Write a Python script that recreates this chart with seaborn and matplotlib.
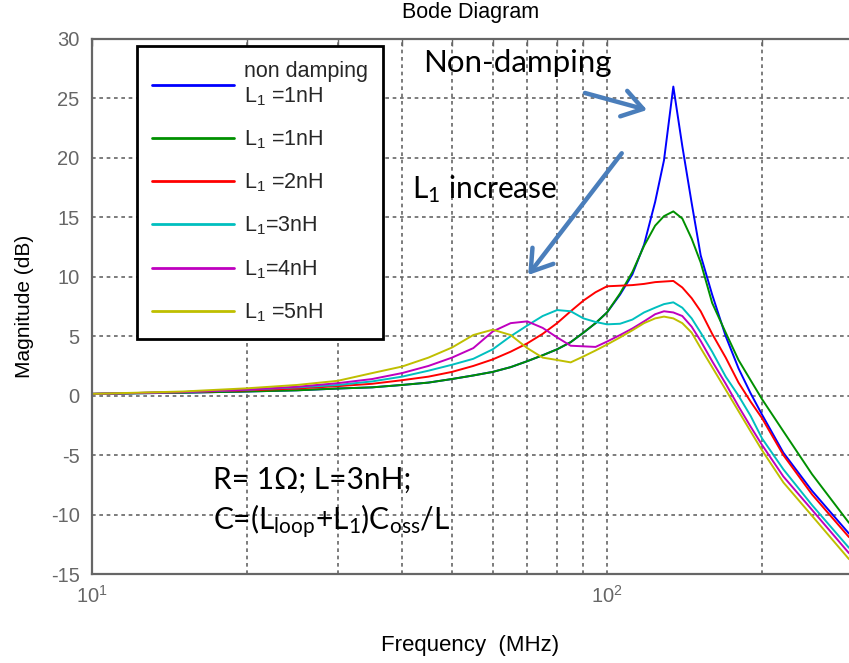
import numpy as np
import pandas as pd
import matplotlib
matplotlib.use("Agg")
import matplotlib.pyplot as plt
from matplotlib.ticker import FixedLocator, FuncFormatter, NullFormatter
from matplotlib.patches import FancyArrowPatch
import seaborn as sns

# ---------------- data ----------------
freq_mhz = [10, 15, 20, 25, 30, 35, 40, 45, 50, 55, 60, 65, 70, 75, 80, 85, 90, 95,
            100, 106, 112, 118, 124, 129, 134.5, 140, 146, 152, 160, 170, 180, 190,
            200, 220, 250, 295]

non_damping = [0.15, 0.25, 0.35, 0.45, 0.6, 0.7, 0.9, 1.1, 1.4, 1.7, 2.0, 2.4, 2.9, 3.4,
               3.9, 4.5, 5.3, 6.1, 7.0, 8.5, 10.2, 12.7, 16.3, 19.8, 26.0, 21.0, 16.2,
               11.8, 8.5, 5.0, 2.3, 0.2, -1.6, -4.8, -8.0, -11.6]
l1_1nh = [0.15, 0.25, 0.35, 0.45, 0.6, 0.7, 0.9, 1.1, 1.4, 1.7, 2.0, 2.4, 2.9, 3.4,
          3.9, 4.5, 5.3, 6.1, 7.0, 8.6, 10.4, 12.6, 14.3, 15.1, 15.5, 14.9, 13.2,
          11.2, 7.8, 5.3, 3.0, 1.3, -0.3, -3.0, -6.6, -10.7]
l1_2nh = [0.15, 0.3, 0.45, 0.6, 0.8, 1.0, 1.3, 1.6, 2.0, 2.5, 3.05, 3.7, 4.4, 5.2,
          6.1, 7.1, 8.0, 8.7, 9.2, 9.25, 9.3, 9.4, 9.55, 9.6, 9.65, 9.1, 8.2,
          7.1, 5.2, 3.2, 1.1, -0.5, -1.9, -5.0, -8.3, -11.9]
l1_3nh = [0.15, 0.3, 0.5, 0.7, 0.9, 1.2, 1.6, 2.1, 2.6, 3.1, 3.9, 5.0, 5.9, 6.7,
          7.2, 7.1, 6.5, 6.2, 6.0, 6.05, 6.4, 7.0, 7.4, 7.7, 7.85, 7.4, 6.5,
          5.3, 3.7, 1.6, 0.0, -1.7, -3.6, -6.2, -9.2, -12.8]
l1_4nh = [0.15, 0.3, 0.5, 0.75, 1.05, 1.4, 1.9, 2.5, 3.2, 4.0, 5.4, 6.1, 6.25, 5.7,
          4.9, 4.2, 4.15, 4.1, 4.55, 5.1, 5.65, 6.25, 6.85, 7.1, 7.0, 6.7, 5.8,
          4.6, 2.9, 1.0, -0.9, -2.6, -4.15, -6.8, -9.6, -13.25]
l1_5nh = [0.15, 0.35, 0.62, 0.9, 1.25, 1.9, 2.45, 3.2, 4.05, 5.1, 5.55, 5.1, 4.0, 3.2,
          3.0, 2.8, 3.3, 3.8, 4.3, 4.9, 5.5, 6.1, 6.5, 6.65, 6.5, 6.1, 5.3,
          4.0, 2.4, 0.5, -1.3, -3.0, -4.6, -7.3, -10.1, -13.75]

series_labels = ["non damping\n$\\mathregular{L_1}$ =1nH",
                 "$\\mathregular{L_1}$ =1nH",
                 "$\\mathregular{L_1}$ =2nH",
                 "$\\mathregular{L_1}$=3nH",
                 "$\\mathregular{L_1}$=4nH",
                 "$\\mathregular{L_1}$ =5nH"]
series_values = [non_damping, l1_1nh, l1_2nh, l1_3nh, l1_4nh, l1_5nh]
series_colors = ["#0000ff", "#009000", "#ff0000", "#00bfbf", "#bf00bf", "#bfbf00"]

y_ticks = [-15, -10, -5, 0, 5, 10, 15, 20, 25, 30]

# ---------------- style ----------------
sns.set_style("white")
plt.rcParams["font.family"] = ["Liberation Sans", "DejaVu Sans"]
plt.rcParams["mathtext.fontset"] = "custom"
plt.rcParams["mathtext.rm"] = "Liberation Sans"
plt.rcParams["mathtext.it"] = "Liberation Sans:italic"
plt.rcParams["axes.unicode_minus"] = False

fig = plt.figure(figsize=(8.49, 6.63), dpi=100)
ax = fig.add_axes([92 / 849, (663 - 574) / 663, 1 - 92 / 849, (574 - 39) / 663])

for vals, lab, col in zip(series_values, series_labels, series_colors):
    sns.lineplot(x=freq_mhz, y=vals, color=col, label=lab, ax=ax, lw=1.4, sort=False)

ax.set_xscale("log")
ax.set_xlim(10, 295)
ax.set_ylim(-15, 30)
ax.set_yticks(y_ticks)

grid_col = "#666666"
ax.xaxis.set_major_locator(FixedLocator([10, 100]))
ax.xaxis.set_minor_locator(FixedLocator([20, 30, 40, 50, 60, 70, 80, 90, 200]))
ax.xaxis.set_major_formatter(FuncFormatter(lambda v, p: "$\\mathregular{10^{%d}}$" % round(np.log10(v))))
ax.xaxis.set_minor_formatter(NullFormatter())
ax.grid(True, which="both", axis="x", color=grid_col, linestyle=(0, (2.2, 2.2)), lw=1.2)
ax.grid(True, which="major", axis="y", color=grid_col, linestyle=(0, (2.2, 2.2)), lw=1.2)

for side in ["left", "bottom", "top"]:
    ax.spines[side].set_color(grid_col)
    ax.spines[side].set_linewidth(1.6)
ax.spines["right"].set_visible(False)

ax.tick_params(axis="both", which="both", direction="in", colors=grid_col,
               labelcolor="#666666", labelsize=14.5, top=True, length=5, width=1)
ax.tick_params(axis="y", pad=9)
ax.tick_params(axis="x", pad=8)

ax.set_xlabel("Frequency  (MHz)", fontsize=16, color="black", labelpad=20)
ax.set_ylabel("Magnitude (dB)", fontsize=15, color="black", labelpad=12)
ax.set_title("Bode Diagram", fontsize=15.5, color="black", pad=15)

leg = ax.legend(loc="upper left", bbox_to_anchor=(0.0594, 0.987), borderaxespad=0,
                fontsize=15.5, frameon=True, fancybox=False, shadow=False,
                handlelength=3.85, handletextpad=0.45, labelspacing=0.96,
                borderpad=0.68, framealpha=1)
leg.get_frame().set_edgecolor("black")
leg.get_frame().set_linewidth(2.0)
for h in leg.legend_handles:
    h.set_linewidth(2.0)

# ---------------- annotations ----------------
ann_font = ["Lato", "DejaVu Sans"]
ax.text(43.9, 27.25, "Non-damping", fontsize=22.5, family=ann_font, color="black")
ax.text(41.8, 16.63, "L$\\mathregular{_1}$ increase", fontsize=21.5, family=ann_font, color="black")
ax.text(17.15, -7.85, "R= 1\u03a9; L=3nH;", fontsize=21.5, family=ann_font, color="black")
ax.text(17.15, -11.3, "C=(L$\\mathregular{_{loop}}$+L$\\mathregular{_1}$)C$\\mathregular{_{oss}}$/L",
        fontsize=21.5, family=ann_font, color="black")

arrow_col = "#4a7ebb"
for (x0, y0), (x1, y1) in [((90.6, 25.46), (119.6, 24.03)), ((106.8, 20.39), (70.3, 10.15))]:
    ax.add_patch(FancyArrowPatch((x0, y0), (x1, y1),
                                 arrowstyle="->,head_length=1.45,head_width=0.95",
                                 mutation_scale=10, color=arrow_col, lw=3.2,
                                 shrinkA=0, shrinkB=0, zorder=5))

fig.savefig("out.png", dpi=100)
